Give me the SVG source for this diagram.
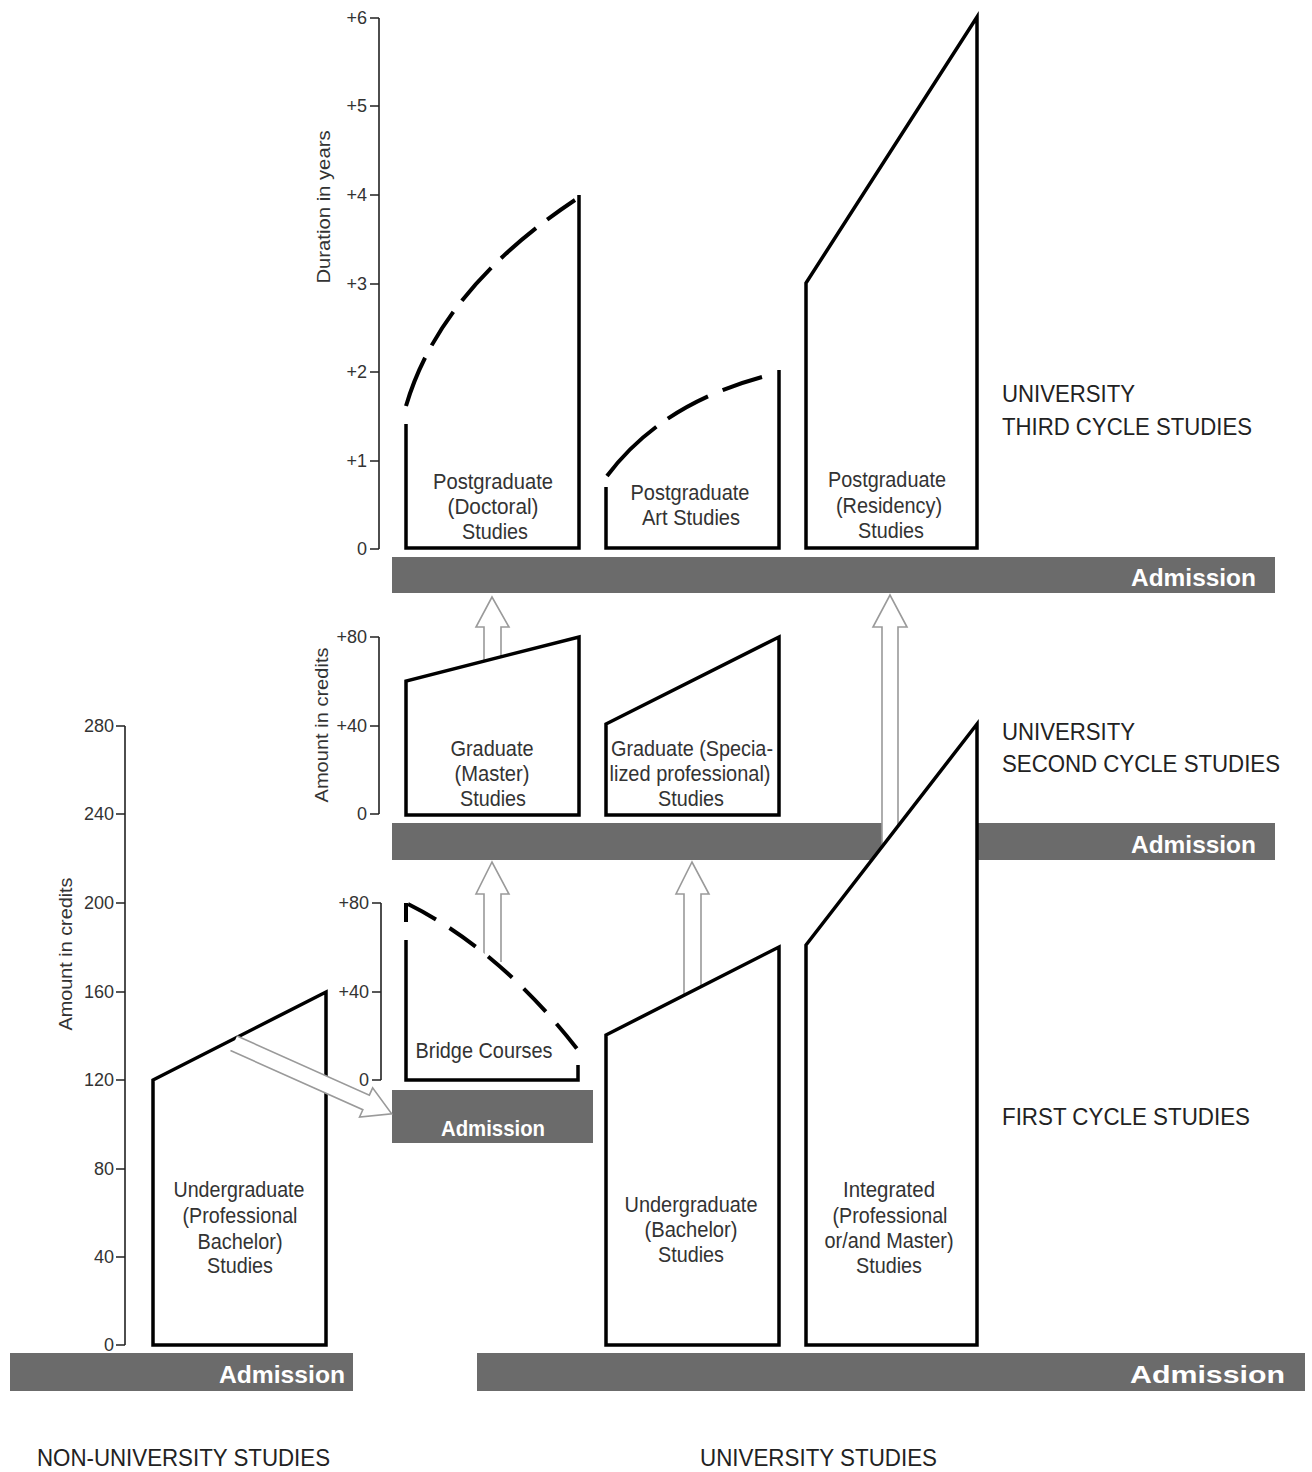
<svg xmlns="http://www.w3.org/2000/svg" width="1312" height="1472" viewBox="0 0 1312 1472">
<style>
.bar{fill:#6b6b6b}
.adm{font-family:"Liberation Sans",Arial,sans-serif;font-weight:bold;font-size:24px;fill:#fff;lengthAdjust:spacingAndGlyphs}
.ax{stroke:#222;stroke-width:1.6;fill:none}
.tl{font-family:"Liberation Sans",Arial,sans-serif;font-size:18px;fill:#333;text-anchor:end}
.al{font-family:"Liberation Sans",Arial,sans-serif;font-size:19px;fill:#333;text-anchor:middle}
.blk{stroke:#000;stroke-width:3.5;fill:#fff;stroke-linejoin:miter}
.open{stroke:#000;stroke-width:3.5;fill:none}
.dash{stroke:#000;stroke-width:4;fill:none;stroke-dasharray:40 16}
.lbl{font-family:"Liberation Sans",Arial,sans-serif;font-size:22px;fill:#333;text-anchor:middle}
.cat{font-family:"Liberation Sans",Arial,sans-serif;font-size:24px;fill:#222}
.arr{fill:#fff;stroke:#9a9a9a;stroke-width:1.6;stroke-linejoin:miter}
</style>

<g id="admission-bars">
<rect class="bar" x="392" y="557" width="883" height="36"/>
<text class="adm" x="1256" y="586" text-anchor="end" textLength="125" lengthAdjust="spacingAndGlyphs">Admission</text>
<rect class="bar" x="392" y="823" width="883" height="37"/>
<text class="adm" x="1256" y="853" text-anchor="end" textLength="125" lengthAdjust="spacingAndGlyphs">Admission</text>
<rect class="bar" x="392" y="1090" width="201" height="53"/>
<text class="adm" x="493" y="1136" text-anchor="middle" textLength="104" lengthAdjust="spacingAndGlyphs" style="font-size:22px">Admission</text>
<rect class="bar" x="10" y="1353" width="343" height="38"/>
<text class="adm" x="345" y="1383" text-anchor="end" textLength="126" lengthAdjust="spacingAndGlyphs">Admission</text>
<rect class="bar" x="477" y="1353" width="828" height="38"/>
<text class="adm" x="1285" y="1383" text-anchor="end" textLength="155" lengthAdjust="spacingAndGlyphs">Admission</text>
</g>

<g id="axis-duration">
<path class="ax" d="M379,18 V549 M370,18 H379 M370,106 H379 M370,195 H379 M370,284 H379 M370,372 H379 M370,461 H379 M370,549 H379"/>
<text class="tl" x="367" y="24">+6</text>
<text class="tl" x="367" y="112">+5</text>
<text class="tl" x="367" y="201">+4</text>
<text class="tl" x="367" y="290">+3</text>
<text class="tl" x="367" y="378">+2</text>
<text class="tl" x="367" y="467">+1</text>
<text class="tl" x="367" y="555">0</text>
<text class="al" transform="translate(330,207) rotate(-90)" textLength="153" lengthAdjust="spacingAndGlyphs">Duration in years</text>
</g>

<g id="axis-credits-second">
<path class="ax" d="M379,637 V814 M370,637 H379 M370,726 H379 M370,814 H379"/>
<text class="tl" x="367" y="643">+80</text>
<text class="tl" x="367" y="732">+40</text>
<text class="tl" x="367" y="820">0</text>
<text class="al" transform="translate(328,725) rotate(-90)" textLength="155" lengthAdjust="spacingAndGlyphs">Amount in credits</text>
</g>

<g id="axis-credits-bridge">
<path class="ax" d="M381,903 V1080 M372,903 H381 M372,992 H381 M372,1080 H381"/>
<text class="tl" x="369" y="909">+80</text>
<text class="tl" x="369" y="998">+40</text>
<text class="tl" x="369" y="1086">0</text>
</g>

<g id="axis-credits-left">
<path class="ax" d="M125,726 V1345 M116,726 H125 M116,814 H125 M116,903 H125 M116,992 H125 M116,1080 H125 M116,1169 H125 M116,1257 H125 M116,1345 H125"/>
<text class="tl" x="114" y="732">280</text>
<text class="tl" x="114" y="820">240</text>
<text class="tl" x="114" y="909">200</text>
<text class="tl" x="114" y="998">160</text>
<text class="tl" x="114" y="1086">120</text>
<text class="tl" x="114" y="1175">80</text>
<text class="tl" x="114" y="1263">40</text>
<text class="tl" x="114" y="1351">0</text>
<text class="al" transform="translate(72,954) rotate(-90)" textLength="153" lengthAdjust="spacingAndGlyphs">Amount in credits</text>
</g>

<g id="connectors">
<path class="arr" d="M484,668 V627 H476 L492,597 L509,627 H501 V668"/>
<path class="arr" d="M484,962 V894 H476 L492,862 L509,894 H501 V962"/>
<path class="arr" d="M684,998 V894 H676 L692,862 L709,894 H701 V998"/>
<path class="arr" d="M882,846 V627 H873 L890,595 L907,627 H898 V846"/>
</g>

<g id="node-doctoral">
<path class="open" d="M406,424 V548 H579 V195"/>
<path class="dash" d="M406,406 Q440,290 575,200" style="stroke-dasharray:52 14 40 14 44 14 46 14"/>
<text class="lbl" x="493" y="489" textLength="120" lengthAdjust="spacingAndGlyphs">Postgraduate</text>
<text class="lbl" x="493" y="514" textLength="91" lengthAdjust="spacingAndGlyphs">(Doctoral)</text>
<text class="lbl" x="495" y="539" textLength="66" lengthAdjust="spacingAndGlyphs">Studies</text>
</g>

<g id="node-art">
<path class="open" d="M606,487 V548 H779 V370"/>
<path class="dash" d="M607,476 Q660,405 762,377" style="stroke-dasharray:70 14 46 16 50"/>
<text class="lbl" x="690" y="500" textLength="119" lengthAdjust="spacingAndGlyphs">Postgraduate</text>
<text class="lbl" x="691" y="525" textLength="98" lengthAdjust="spacingAndGlyphs">Art Studies</text>
</g>

<g id="node-residency">
<path class="blk" d="M806,548 V283 L977,17 V548 Z"/>
<text class="lbl" x="887" y="487" textLength="118" lengthAdjust="spacingAndGlyphs">Postgraduate</text>
<text class="lbl" x="889" y="513" textLength="106" lengthAdjust="spacingAndGlyphs">(Residency)</text>
<text class="lbl" x="891" y="538" textLength="66" lengthAdjust="spacingAndGlyphs">Studies</text>
</g>

<g id="node-master">
<path class="blk" d="M406,815 V681 L579,637 V815 Z"/>
<text class="lbl" x="492" y="756" textLength="83" lengthAdjust="spacingAndGlyphs">Graduate</text>
<text class="lbl" x="492" y="781" textLength="75" lengthAdjust="spacingAndGlyphs">(Master)</text>
<text class="lbl" x="493" y="806" textLength="66" lengthAdjust="spacingAndGlyphs">Studies</text>
</g>

<g id="node-specialized">
<path class="blk" d="M606,815 V724 L779,637 V815 Z"/>
<text class="lbl" x="692" y="756" textLength="162" lengthAdjust="spacingAndGlyphs">Graduate (Specia-</text>
<text class="lbl" x="690" y="781" textLength="161" lengthAdjust="spacingAndGlyphs">lized professional)</text>
<text class="lbl" x="691" y="806" textLength="66" lengthAdjust="spacingAndGlyphs">Studies</text>
</g>

<g id="node-bridge">
<path d="M406,903 Q500,950 578,1050 V1080 H406 Z" fill="#fff"/>
<path class="open" d="M406,940 V1080 H578 V1065"/>
<path class="dash" d="M406,922 V903 M408,904 Q500,950 578,1050" style="stroke-dasharray:32 16"/>
<text class="lbl" x="484" y="1058" textLength="137" lengthAdjust="spacingAndGlyphs">Bridge Courses</text>
</g>

<g id="node-bachelor">
<path class="blk" d="M606,1345 V1035 L779,947 V1345 Z"/>
<text class="lbl" x="691" y="1212" textLength="133" lengthAdjust="spacingAndGlyphs">Undergraduate</text>
<text class="lbl" x="691" y="1237" textLength="93" lengthAdjust="spacingAndGlyphs">(Bachelor)</text>
<text class="lbl" x="691" y="1262" textLength="66" lengthAdjust="spacingAndGlyphs">Studies</text>
</g>

<g id="node-integrated">
<path class="blk" d="M806,1345 V945 L977,724 V1345 Z"/>
<text class="lbl" x="889" y="1197" textLength="92" lengthAdjust="spacingAndGlyphs">Integrated</text>
<text class="lbl" x="890" y="1223" textLength="115" lengthAdjust="spacingAndGlyphs">(Professional</text>
<text class="lbl" x="889" y="1248" textLength="129" lengthAdjust="spacingAndGlyphs">or/and Master)</text>
<text class="lbl" x="889" y="1273" textLength="66" lengthAdjust="spacingAndGlyphs">Studies</text>
</g>

<g id="node-professional-bachelor">
<path class="blk" d="M153,1345 V1080 L326,992 V1345 Z"/>
<text class="lbl" x="239" y="1197" textLength="131" lengthAdjust="spacingAndGlyphs">Undergraduate</text>
<text class="lbl" x="240" y="1223" textLength="115" lengthAdjust="spacingAndGlyphs">(Professional</text>
<text class="lbl" x="240" y="1249" textLength="85" lengthAdjust="spacingAndGlyphs">Bachelor)</text>
<text class="lbl" x="240" y="1273" textLength="66" lengthAdjust="spacingAndGlyphs">Studies</text>
</g>

<g id="connector-bridge">
<path class="arr" transform="translate(231,1042) rotate(24.1)" d="M3,-8 H148 V-16 L176,0 L148,16 V8 H3"/>
</g>

<g id="cycle-labels">
<text class="cat" x="1002" y="402" textLength="133" lengthAdjust="spacingAndGlyphs">UNIVERSITY</text>
<text class="cat" x="1002" y="435" textLength="250" lengthAdjust="spacingAndGlyphs">THIRD CYCLE STUDIES</text>
<text class="cat" x="1002" y="740" textLength="133" lengthAdjust="spacingAndGlyphs">UNIVERSITY</text>
<text class="cat" x="1002" y="772" textLength="278" lengthAdjust="spacingAndGlyphs">SECOND CYCLE STUDIES</text>
<text class="cat" x="1002" y="1125" textLength="248" lengthAdjust="spacingAndGlyphs">FIRST CYCLE STUDIES</text>
<text class="cat" x="37" y="1466" textLength="293" lengthAdjust="spacingAndGlyphs">NON-UNIVERSITY STUDIES</text>
<text class="cat" x="700" y="1466" textLength="237" lengthAdjust="spacingAndGlyphs">UNIVERSITY STUDIES</text>
</g>
</svg>
